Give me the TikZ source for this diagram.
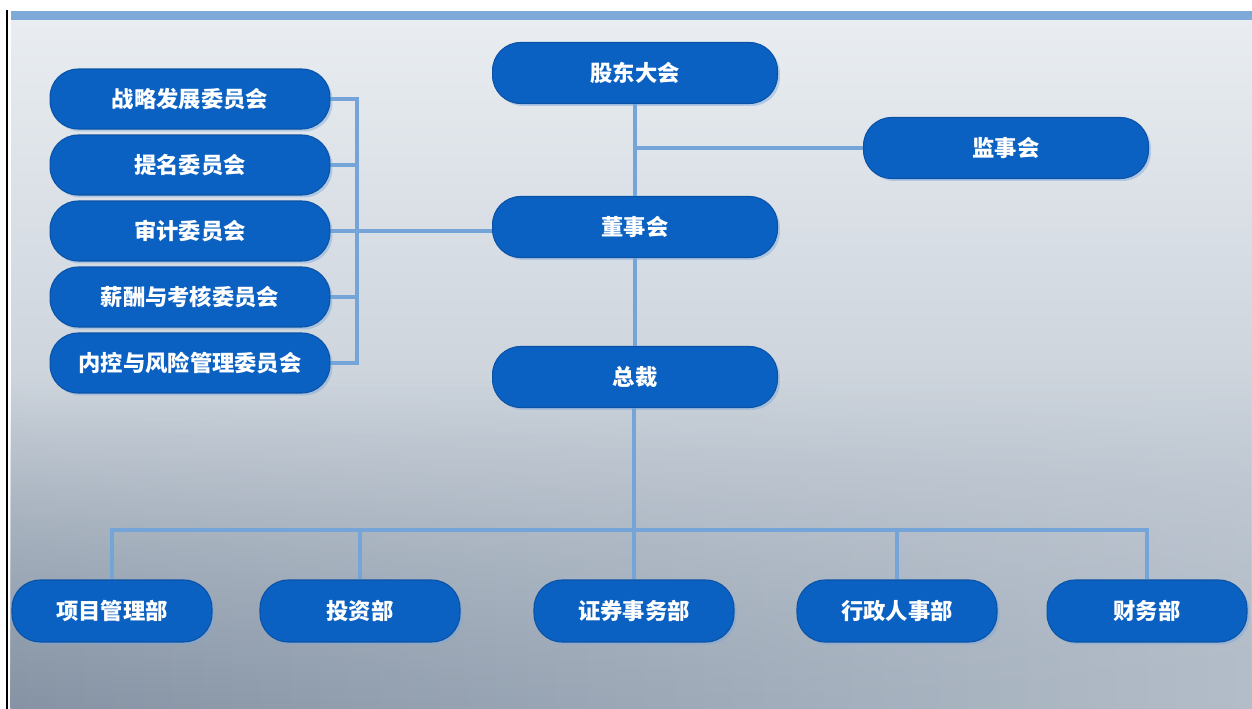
\documentclass[tikz,border=0pt]{standalone}
\usepackage{fontspec}
\setmainfont{Noto Sans CJK SC}
\usetikzlibrary{shadows,fadings}

\definecolor{bgtop}{HTML}{E9EDF1}
\definecolor{bgbot}{HTML}{B3BDC9}
\definecolor{bgdark}{HTML}{8593A4}
\definecolor{barblue}{HTML}{7FA9D9}
\definecolor{boxblue}{HTML}{0B61C2}
\definecolor{boxrim}{HTML}{0A52A6}
\definecolor{linkblue}{HTML}{74A4D8}

\tikzset{
  box/.style={rectangle, rounded corners=16pt, fill=boxblue, draw=boxrim, line width=0.6pt,
    text=white, font=\fontsize{12.7}{15}\selectfont\bfseries,
    drop shadow={shadow xshift=1.4pt, shadow yshift=-1.4pt, opacity=0.45, fill=boxblue!55}},
  mainbox/.style={box, minimum width=5.7cm, minimum height=1.22cm},
  sidebox/.style={box, minimum width=5.6cm, minimum height=1.2cm},
  deptbox/.style={box, minimum width=4cm, minimum height=1.24cm},
  link/.style={draw=linkblue, line width=2.3pt}
}

\begin{document}
\begin{tikzpicture}[x=0.02cm, y=-0.02cm]
  \useasboundingbox (0,0) rectangle (1252,709);
  % background
  \fill[white] (0,0) rectangle (1252,709);
  \shade[top color=bgtop, bottom color=bgbot] (11,20) rectangle (1252,709);
  \shade[left color=bgdark, right color=bgbot, path fading=north] (11,380) rectangle (1252,709);
  \fill[barblue] (11,11) rectangle (1252,20);
  \draw[black, line width=0.8pt] (7,10) -- (7,709);

  % top of the chart
  \node[mainbox] (gudong) at (635,73) {股东大会};
  \node[mainbox] (jianshi) at (1006,148) {监事会};
  \node[mainbox] (dongshi) at (635,227) {董事会};
  \node[mainbox] (zongcai) at (635,377) {总裁};

  % committees
  \node[sidebox] (zhanlue) at (190,99) {战略发展委员会};
  \node[sidebox] (timing) at (190,165) {提名委员会};
  \node[sidebox] (shenji) at (190,231) {审计委员会};
  \node[sidebox] (xinchou) at (190,297) {薪酬与考核委员会};
  \node[sidebox] (neikong) at (190,363) {内控与风险管理委员会};

  % departments
  \node[deptbox] (xiangmu) at (112,611) {项目管理部};
  \node[deptbox] (touzi) at (360,611) {投资部};
  \node[deptbox] (zhengquan) at (634,611) {证券事务部};
  \node[deptbox] (xingzheng) at (897,611) {行政人事部};
  \node[deptbox] (caiwu) at (1147,611) {财务部};

  \coordinate (busL) at (357,231);
  \coordinate (busB) at (634,530);

  \begin{scope}[link]
    \draw (gudong) -- (dongshi);
    \draw (dongshi) -- (zongcai);
    \draw (jianshi.west) -- (jianshi.west -| gudong);
    \draw (zhanlue.east) -| (busL);
    \draw (neikong.east) -| (busL);
    \draw (timing.east) -- (timing.east -| busL);
    \draw (xinchou.east) -- (xinchou.east -| busL);
    \draw (shenji.east) -- (shenji.east -| dongshi.west);
    \draw (zongcai.south -| busB) -- (zhengquan.north);
    \draw (xiangmu.north) |- (busB);
    \draw (caiwu.north) |- (busB);
    \draw (touzi.north) -- (touzi.north |- busB);
    \draw (xingzheng.north) -- (xingzheng.north |- busB);
  \end{scope}
\end{tikzpicture}
\end{document}
